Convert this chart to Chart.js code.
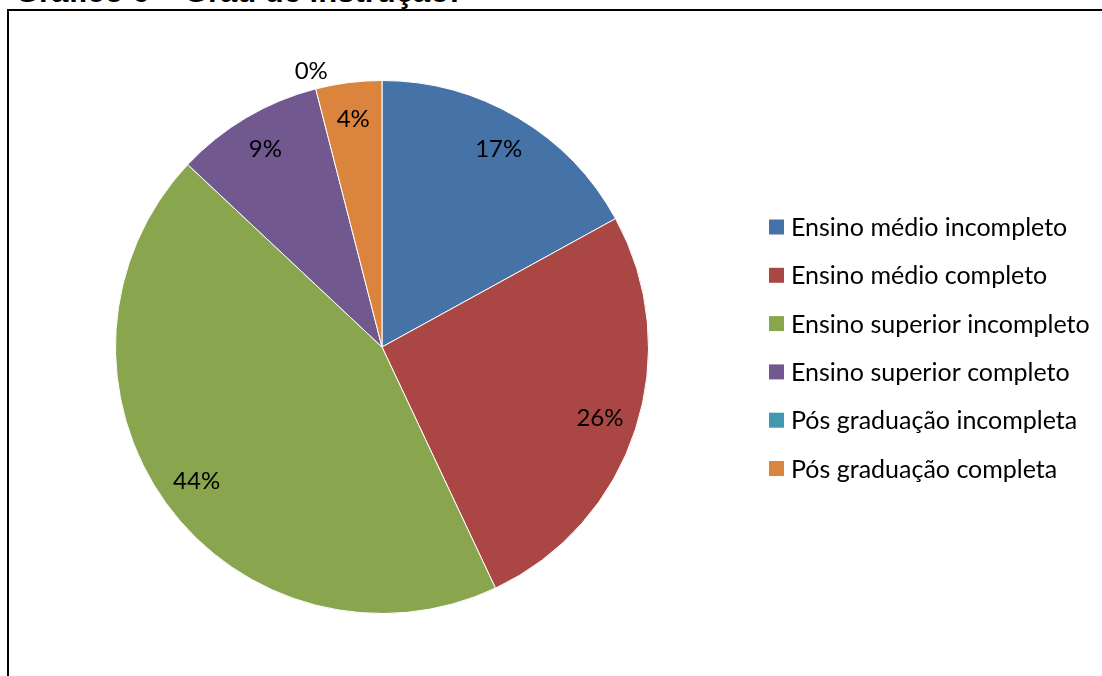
<!DOCTYPE html>
<html lang="pt">
<head>
<meta charset="utf-8">
<title>Grau de instrução</title>
<script src="https://cdn.jsdelivr.net/npm/chart.js@4"></script>
<style>
  html, body { margin: 0; padding: 0; background: #fff; overflow: hidden; }
  #wrap { position: relative; width: 1102px; height: 676px; }
  #title {
    position: absolute; left: 15px; top: -24px;
    font: bold 31px/32px "Liberation Sans", Arial, sans-serif;
    color: #000; white-space: nowrap;
  }
  #frame {
    position: absolute; left: 7px; top: 9px; width: 1200px; height: 800px;
    border: 2px solid #000; box-sizing: border-box; background: transparent;
  }
  #chart { position: absolute; left: 0; top: 0; }
</style>
</head>
<body>
<div id="wrap">
  <div id="title">Gráfico 6 – Grau de instrução:</div>
  <div id="frame"></div>
  <canvas id="chart" width="1102" height="676"></canvas>
</div>
<script>
// Grau de instrução (%)
const categories = [
  "Ensino médio incompleto",
  "Ensino médio completo",
  "Ensino superior incompleto",
  "Ensino superior completo",
  "Pós graduação incompleta",
  "Pós graduação completa"
];
const percentages = [17, 26, 44, 9, 0, 4];
const sliceColors = ["#4572A7", "#AA4643", "#89A54E", "#71588F", "#4198AF", "#DB843D"];

const labelFont = '24px Lato, "Open Sans", sans-serif';
const legendFont = '25px Lato, "Open Sans", sans-serif';

// percentage labels inside each slice (zero slices go just outside the pie)
const sliceLabels = {
  id: "sliceLabels",
  afterDatasetsDraw(chart) {
    const ctx = chart.ctx;
    const meta = chart.getDatasetMeta(0);
    ctx.save();
    ctx.font = labelFont;
    ctx.fillStyle = "#000";
    ctx.textAlign = "center";
    ctx.textBaseline = "middle";
    meta.data.forEach((arc, i) => {
      const p = arc.getProps(["x", "y", "startAngle", "endAngle", "outerRadius"], true);
      const mid = (p.startAngle + p.endAngle) / 2;
      const r = percentages[i] === 0 ? p.outerRadius + 18 : p.outerRadius * 0.86;
      ctx.fillText(percentages[i] + "%", p.x + Math.cos(mid) * r, p.y + Math.sin(mid) * r);
    });
    ctx.restore();
  }
};

// legend on the right, one row per category
const sideLegend = {
  id: "sideLegend",
  afterDraw(chart) {
    const ctx = chart.ctx;
    const x0 = 769, y0 = 227, step = 48.3, box = 15;
    ctx.save();
    ctx.font = legendFont;
    ctx.textAlign = "left";
    ctx.textBaseline = "middle";
    chart.data.labels.forEach((label, i) => {
      const y = y0 + i * step;
      ctx.fillStyle = sliceColors[i];
      ctx.fillRect(x0, y - box / 2, box, box);
      ctx.fillStyle = "#000";
      ctx.fillText(label, x0 + 22, y + 1);
    });
    ctx.restore();
  }
};

new Chart(document.getElementById("chart"), {
  type: "pie",
  data: {
    labels: categories,
    datasets: [{
      data: percentages,
      backgroundColor: sliceColors,
      borderColor: "#ffffff",
      borderWidth: 1
    }]
  },
  options: {
    responsive: false,
    animation: false,
    layout: { padding: { left: 115, top: 80, right: 453, bottom: 62 } },
    plugins: {
      legend: { display: false },
      tooltip: { enabled: false },
      title: { display: false }
    }
  },
  plugins: [sliceLabels, sideLegend]
});
</script>
</body>
</html>
